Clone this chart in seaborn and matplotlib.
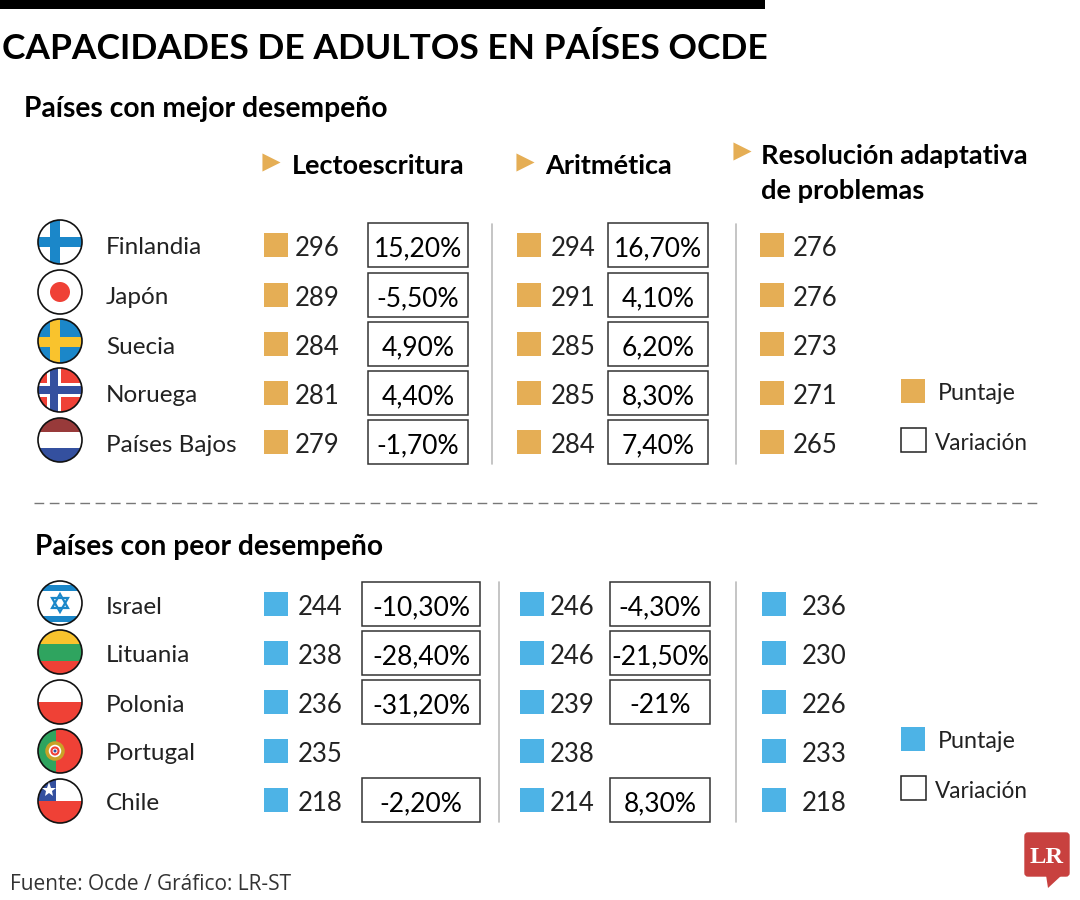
import numpy as np
import pandas as pd
import matplotlib
matplotlib.use("Agg")
import matplotlib.pyplot as plt
import seaborn as sns
from matplotlib.patches import Circle, Rectangle, Polygon, FancyBboxPatch

# Datos
paises_mejor = ["Finlandia", "Japón", "Suecia", "Noruega", "Países Bajos"]
lecto_mejor = [296, 289, 284, 281, 279]
var_lecto_mejor = ["15,20%", "-5,50%", "4,90%", "4,40%", "-1,70%"]
arit_mejor = [294, 291, 285, 285, 284]
var_arit_mejor = ["16,70%", "4,10%", "6,20%", "8,30%", "7,40%"]
reso_mejor = [276, 276, 273, 271, 265]

paises_peor = ["Israel", "Lituania", "Polonia", "Portugal", "Chile"]
lecto_peor = [244, 238, 236, 235, 218]
var_lecto_peor = ["-10,30%", "-28,40%", "-31,20%", None, "-2,20%"]
arit_peor = [246, 246, 239, 238, 214]
var_arit_peor = ["-4,30%", "-21,50%", "-21%", None, "8,30%"]
reso_peor = [236, 230, 226, 233, 218]

titulo = "CAPACIDADES DE ADULTOS EN PAÍSES OCDE"
fuente = "Fuente: Ocde / Gráfico: LR-ST"

NARANJA = "#E5AE55"
AZUL = "#4DB3E6"
ROJO = "#EF4136"
TEXTO = "#222222"

sns.set_theme(style="white")
plt.rcParams["font.family"] = ["Lato", "DejaVu Sans"]

fig = plt.figure(figsize=(10.8, 9), dpi=100)
ax = fig.add_axes([0, 0, 1, 1])
ax.set_xlim(0, 1080)
ax.set_ylim(900, 0)
ax.axis("off")
renderer = fig.canvas.get_renderer()

filas_mejor = [245, 295, 344, 393, 442]
filas_peor = [604, 653, 702, 751, 800]
flags_mejor = [242, 292, 341, 390, 440]
flags_peor = [603, 652, 702, 751, 801]
cx_flag = 60
r_flag = 22


def texto(x, y, s, ancho=None, size=20, **kw):
    # si se da un ancho, se ajusta el tamaño de letra a ese ancho en pixeles
    kw.setdefault("color", "black")
    kw.setdefault("va", "center_baseline")
    t = ax.text(x, y, s, fontsize=size, **kw)
    if ancho is not None:
        w = t.get_window_extent(renderer).width
        t.set_fontsize(size * ancho / w)
    return t


def cuadros(filas, xs, xs_texto, puntajes, color):
    df = pd.DataFrame({"fila": filas * 3,
                       "x": [xs[0]] * 5 + [xs[1]] * 5 + [xs[2]] * 5,
                       "xt": [xs_texto[0]] * 5 + [xs_texto[1]] * 5 + [xs_texto[2]] * 5,
                       "puntaje": puntajes[0] + puntajes[1] + puntajes[2]})
    sns.scatterplot(data=df, x="x", y="fila", marker="s", color=color, s=300,
                    linewidth=0, ax=ax, legend=False, zorder=3)
    for _, r in df.iterrows():
        texto(r["xt"], r["fila"] + 1, str(r["puntaje"]), size=18.5, color=TEXTO, ha="center")


def cajas(filas, x0, ancho, textos):
    for y, t in zip(filas, textos):
        if t is None:
            continue
        ax.add_patch(Rectangle((x0, y - 22), ancho, 44, fc="white", ec="#333333", lw=1.1))
        texto(x0 + ancho / 2, y + 1, t, size=19, ha="center")


def bandera(y, nombre):
    clip = Circle((cx_flag, y), r_flag, transform=ax.transData)
    partes = []
    X = cx_flag - r_flag
    Y = y - r_flag
    D = 2 * r_flag

    def rect(x0, y0, w, h, c):
        partes.append(Rectangle((X + x0, Y + y0), w, h, fc=c, ec="none"))

    rect(0, 0, D, D, "white")
    if nombre == "Finlandia":
        rect(12, 0, 10, D, "#1B87C9")
        rect(0, 17, D, 10, "#1B87C9")
    elif nombre == "Japón":
        partes.append(Circle((cx_flag, y), 10, fc=ROJO, ec="none"))
    elif nombre == "Suecia":
        rect(0, 0, D, D, "#1B87C9")
        rect(12, 0, 10, D, "#F9C32D")
        rect(0, 18, D, 10, "#F9C32D")
    elif nombre == "Noruega":
        rect(0, 0, D, D, ROJO)
        rect(9, 0, 14, D, "white")
        rect(0, 15, D, 14, "white")
        rect(12, 0, 8, D, "#34509F")
        rect(0, 18, D, 8, "#34509F")
    elif nombre == "Países Bajos":
        rect(0, 0, D, 14, "#983A3A")
        rect(0, 30, D, 14, "#34509F")
    elif nombre == "Israel":
        rect(0, 4, D, 6, "#1B87C9")
        rect(0, 35, D, 6, "#1B87C9")
    elif nombre == "Lituania":
        rect(0, 0, D, 14, "#F9C32D")
        rect(0, 14, D, 17, "#2FA45F")
        rect(0, 31, D, 13, ROJO)
    elif nombre == "Polonia":
        rect(0, 22, D, 22, ROJO)
    elif nombre == "Portugal":
        rect(0, 0, 18, D, "#2FA45F")
        rect(18, 0, 26, D, ROJO)
    elif nombre == "Chile":
        rect(0, 22, D, 22, ROJO)
        rect(0, 0, 18, 22, "#34509F")
    for p in partes:
        ax.add_patch(p)
        p.set_clip_path(clip)
    if nombre == "Israel":
        for s in (1, -1):
            ax.add_patch(Polygon([(cx_flag - 8, y + s * 5), (cx_flag + 8, y + s * 5), (cx_flag, y - s * 9)],
                                 fc="none", ec="#1B87C9", lw=1.6))
    if nombre == "Portugal":
        ax.add_patch(Circle((cx_flag - 5, y), 8, fc="white", ec="#C9A227", lw=2.5))
        ax.add_patch(Circle((cx_flag - 5, y), 3.5, fc="white", ec=ROJO, lw=1.5))
        ax.add_patch(Circle((cx_flag - 5, y), 1.5, fc="#34509F", ec="none"))
    if nombre == "Chile":
        ax.plot([cx_flag - 11], [y - 11], marker="*", ms=11, color="white", mew=0)
    ax.add_patch(Circle((cx_flag, y), r_flag, fc="none", ec="#111111", lw=1.2))


# Barra y titulos
ax.add_patch(Rectangle((0, 0), 765, 9, fc="black", ec="none"))
texto(2, 46, titulo, ancho=766, size=28, fontweight="bold")
texto(24, 106, "Países con mejor desempeño", ancho=364, size=22, fontweight="bold")
texto(35, 545, "Países con peor desempeño", ancho=347, size=22, fontweight="bold")

# Encabezados de columna
flechas = pd.DataFrame({"x": [271, 525, 742], "y": [162, 162, 151]})
sns.scatterplot(data=flechas, x="x", y="y", marker=">", color=NARANJA, s=170, linewidth=0, ax=ax, legend=False)
texto(292, 164, "Lectoescritura", ancho=172, size=22, fontweight="bold")
texto(545, 164, "Aritmética", ancho=127, size=22, fontweight="bold")
texto(761, 154, "Resolución adaptativa", ancho=267, size=22, fontweight="bold")
texto(761, 189, "de problemas", ancho=163, size=22, fontweight="bold")

# Filas
for flags, nombres, filas in ((flags_mejor, paises_mejor, filas_mejor), (flags_peor, paises_peor, filas_peor)):
    for yf, y, n in zip(flags, filas, nombres):
        bandera(yf, n)
        texto(106, y + 1, n, size=17.5, color=TEXTO)

cuadros(filas_mejor, [276, 529, 772], [317, 573, 815], [lecto_mejor, arit_mejor, reso_mejor], NARANJA)
cuadros(filas_peor, [276, 532, 774], [320, 572, 824], [lecto_peor, arit_peor, reso_peor], AZUL)
cajas(filas_mejor, 368, 100, var_lecto_mejor)
cajas(filas_mejor, 608, 100, var_arit_mejor)
cajas(filas_peor, 362, 118, var_lecto_peor)
cajas(filas_peor, 610, 100, var_arit_peor)

# Separadores
for x, y0, y1 in ((492, 224, 464), (736, 224, 464), (499, 582, 822), (736, 582, 822)):
    ax.plot([x, x], [y0, y1], color="#BBBBBB", lw=1.2)
ax.plot([34, 1040], [503, 503], color="#777777", lw=1, dashes=(7, 4))

# Leyendas
for y, color in ((391, NARANJA), (739, AZUL)):
    ley = pd.DataFrame({"x": [913], "y": [y]})
    sns.scatterplot(data=ley, x="x", y="y", marker="s", color=color, s=300, linewidth=0, ax=ax, legend=False)
    texto(938, y + 1, "Puntaje", ancho=78, size=20, color=TEXTO)
    ax.add_patch(Rectangle((901, y + 37), 25, 24, fc="white", ec="#222222", lw=1.1))
    texto(935, y + 50, "Variación", ancho=93, size=20, color=TEXTO)

# Fuente y logo
texto(10, 882, fuente, ancho=281, size=15, family=["Open Sans", "DejaVu Sans"], color="#333333")
ax.add_patch(FancyBboxPatch((1025, 833), 44, 43, boxstyle="round,pad=0,rounding_size=3", fc="#C8413F", ec="#C8413F", lw=1))
ax.add_patch(Polygon([(1046, 875), (1062, 875), (1048, 888)], fc="#C8413F", ec="none"))
texto(1047, 855, "LR", ancho=34, size=18, fontweight="bold", family=["Liberation Serif", "DejaVu Serif"],
      color="white", ha="center")

ax.set_xlim(0, 1080)
ax.set_ylim(900, 0)
ax.set_xlabel("")
ax.set_ylabel("")
fig.savefig("out.png", dpi=100)
